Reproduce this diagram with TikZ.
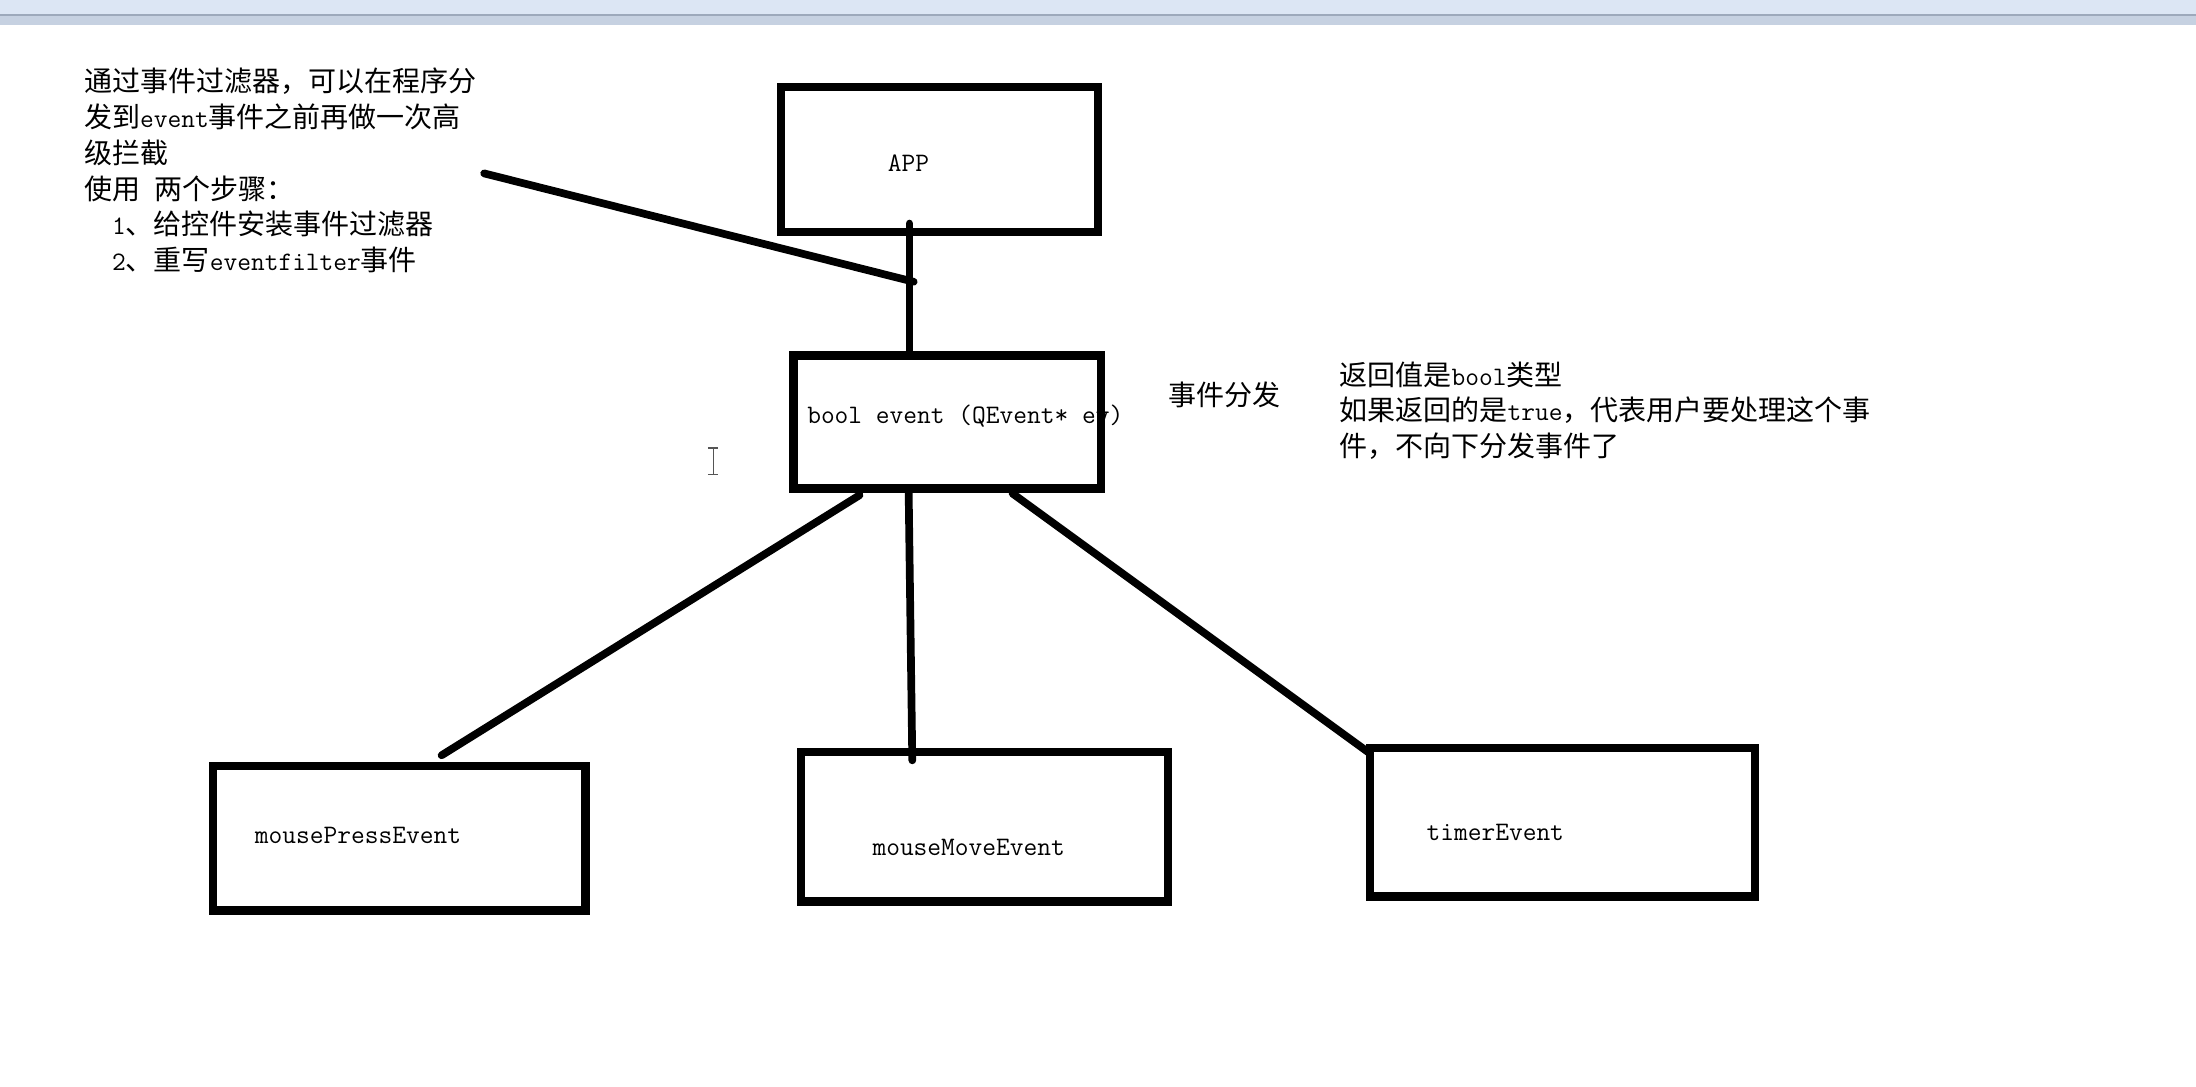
\documentclass[tikz,border=0pt]{standalone}
\usepackage{fontspec}
\newfontfamily\cjkfont{Noto Sans CJK SC}
\newcommand\monosize{\ttfamily\fontsize{19.05}{22}\selectfont}
\newcommand\latn[1]{{\monosize #1}}
\definecolor{bandA}{HTML}{DCE6F4}
\definecolor{bandLine}{HTML}{9DA9BB}
\definecolor{bandB}{HTML}{C6D1E1}
\definecolor{cursorgray}{HTML}{555555}
\begin{document}
\begin{tikzpicture}[x=1pt,y=-1pt,
  box/.style={draw=black, line width=6pt, inner sep=0pt, outer sep=0pt},
  cjk/.style={font=\cjkfont\fontsize{20}{25}\selectfont, anchor=base west, inner sep=0pt, outer sep=0pt},
  mono/.style={font=\monosize, anchor=base west, inner sep=0pt, outer sep=0pt},
  conn/.style={draw=black, line width=5.5pt, line cap=round}]
% canvas and window band
\fill[white] (0,0) rectangle (1568,776);
\useasboundingbox (0,0) rectangle (1568,776);
\fill[bandA] (0,0) rectangle (1568,10);
\fill[bandLine] (0,10) rectangle (1568,11.4);
\fill[bandB] (0,11.4) rectangle (1568,17.9);

% left note
\node[cjk] (l1) at (60,65.3) {通过事件过滤器，可以在程序分};
\node[cjk] (l2) at (60,90.9) {发到\latn{event}事件之前再做一次高};
\node[cjk] (l3) at (60,116.5) {级拦截};
\node[cjk] (l4) at (60,142.1) {使用\hspace{10pt}两个步骤：};
\node[cjk] (l5) at (80,167.7) {\latn{1}、给控件安装事件过滤器};
\node[cjk] (l6) at (80,193.3) {\latn{2}、重写\latn{eventfilter}事件};

% right notes
\node[cjk] (dispatch) at (834,289.7) {事件分发};
\node[cjk] (r1) at (956.5,275.6) {返回值是\latn{bool}类型};
\node[cjk] (r2) at (956.5,300.6) {如果返回的是\latn{true}，代表用户要处理这个事};
\node[cjk] (r3) at (956.5,325.6) {件，不向下分发事件了};

% box texts
\node[mono] (apptext) at (634,122.1) {APP};
\node[mono] (evtext) at (576.4,302.5) {bool event (QEvent* ev)};
\node[mono] (presstext) at (182,602.5) {mousePressEvent};
\node[mono] (movetext) at (623,610.7) {mouseMoveEvent};
\node[mono] (timertext) at (1018.6,600) {timerEvent};

% boxes
\node[box, minimum width=226.1pt, minimum height=103.6pt] (app) at (670.75,113.8) {};
\node[box, minimum width=219.6pt, minimum height=95.1pt] (ev) at (676.5,301.25) {};
\node[box, minimum width=266pt, minimum height=103pt] (press) at (285,598.5) {};
\node[box, minimum width=262pt, minimum height=106.7pt] (move) at (703,590.35) {};
\node[box, minimum width=275pt, minimum height=106pt] (timer) at (1115.5,587) {};

% connectors
\coordinate (filterTip) at (345.7,123.8);
\coordinate (filterJoin) at (652.4,201.2);
\draw[conn] ([xshift=-21.45pt,yshift=6pt]app.south) -- ([xshift=-27.2pt]ev.north);
\draw[conn] (filterTip) -- (filterJoin);
\draw[conn] ([xshift=-62.8pt,yshift=-4.8pt]ev.south) -- ([xshift=30.3pt,yshift=7.7pt]press.north);
\draw[conn] ([xshift=-27.7pt,yshift=-2.4pt]ev.south) -- ([xshift=-51.6pt,yshift=-5.9pt]move.north);
\draw[conn] ([xshift=46.5pt,yshift=-3.6pt]ev.south) -- ([xshift=0.2pt,yshift=-4pt]timer.north west);

% text cursor
\draw[cursorgray, line width=1pt] (509.3,320) -- (509.3,339);
\draw[cursorgray, line width=1pt] (505.5,320) -- (513,320);
\draw[cursorgray, line width=1pt] (505.5,339) -- (513,339);
\end{tikzpicture}
\end{document}
